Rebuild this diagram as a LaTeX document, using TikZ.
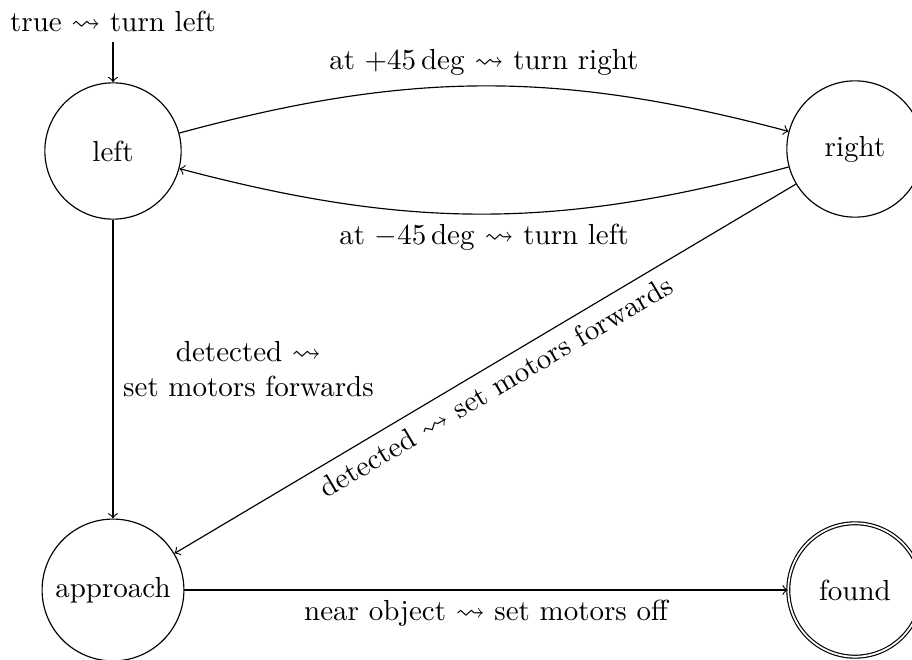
\documentclass[tikz,border=0pt]{standalone}
\usepackage{amssymb}
\begin{document}
\begin{tikzpicture}[x=0.3448pt,y=-0.3448pt,
  stnode/.style={circle,draw,minimum size=47pt,inner sep=3.33pt},
  acceptnode/.style={stnode,double,minimum size=46pt},
  trans/.style={->}]
\useasboundingbox (0,0) rectangle (912,660);
\node[stnode] (left) at (113,151) {left};
\node[stnode] (right) at (855,149) {right};
\node[stnode] (approach) at (113,590) {approach};
\node[acceptnode] (found) at (855,590) {found};
\node (init) at (113,21) {true $\leadsto$ turn left};
\draw[trans] (init) -- (left);
\draw[trans] (left) to[bend left=15] node[above] {at $+45\deg$ $\leadsto$ turn right} (right);
\draw[trans] (right) to[bend left=15] node[below] {at $-45\deg$ $\leadsto$ turn left} (left);
\draw[trans] (left) -- node[right,align=center] {detected $\leadsto$\\ set motors forwards} (approach);
\draw[trans] (right) -- node[sloped,below] {detected $\leadsto$ set motors forwards} (approach);
\draw[trans] (approach) -- node[below] {near object $\leadsto$ set motors off} (found);
\end{tikzpicture}
\end{document}
